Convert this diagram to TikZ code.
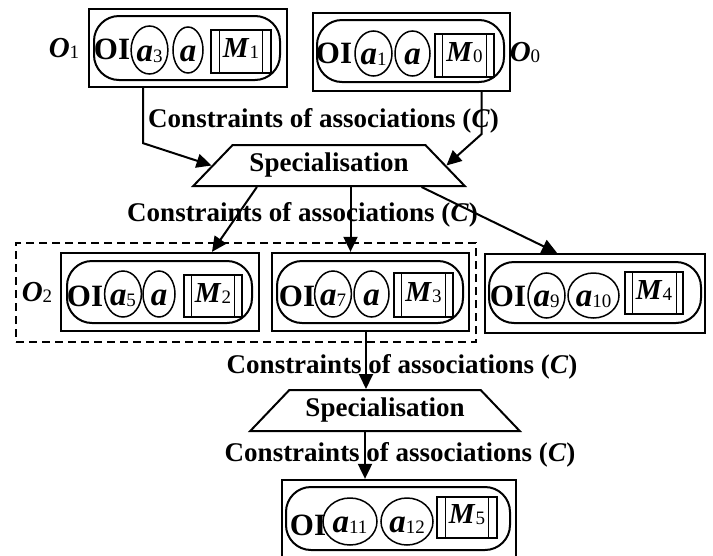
\documentclass[tikz,border=0pt]{standalone}
\usepackage{fontspec}
\setmainfont{Liberation Serif}
\usetikzlibrary{positioning,shapes.geometric,arrows.meta,calc}

\newcommand{\vname}[2]{\textit{#1}\raisebox{-1pt}{\fontsize{19}{19}\selectfont\mdseries\upshape #2}}

\begin{document}
\begin{tikzpicture}[x=1pt,y=-1pt,
    objbox/.style={draw, line width=2.3pt, inner sep=0pt},
    inbox/.style={draw, line width=2pt, rounded corners=25pt, inner sep=0pt},
    attr/.style={draw, ellipse, line width=1.5pt, inner sep=0pt, text height=24pt, text depth=2pt,
        font=\fontsize{33}{33}\selectfont\bfseries},
    mbox/.style={draw, line width=2pt, inner sep=0pt},
    mline/.style={draw, line width=0.9pt, inner sep=0pt, text height=19pt, text depth=7pt,
        font=\fontsize{29}{29}\selectfont\bfseries},
    oitext/.style={font=\fontsize{31}{31}\selectfont\bfseries, inner sep=0pt},
    olabel/.style={font=\fontsize{29}{29}\selectfont\bfseries, inner sep=0pt},
    ctext/.style={font=\fontsize{27}{27}\selectfont\bfseries, inner sep=0pt},
    spec/.style={draw, trapezium, trapezium stretches=true, trapezium angle=37, line width=2pt,
        inner sep=0pt, minimum height=41pt, font=\fontsize{27}{27}\selectfont\bfseries},
    arr/.style={line width=2pt, -{Triangle[length=15pt,width=14pt]}}]

    \useasboundingbox (0,0) rectangle (713,555);
    \clip (0,0) rectangle (713,555);

    % O1 object
    \node[objbox, minimum width=198pt, minimum height=78pt] (o1) at (188,48) {};
    \node[inbox, minimum width=186pt, minimum height=64pt] (o1in) at (187,48) {};
    \node[oitext] (o1oi) at (112,49.5) {OI};
    \node[attr, minimum width=33pt, minimum height=48pt] (o1a3) at (149.5,50) {\vname{a}{3}};
    \node[attr, minimum width=30pt, minimum height=46pt] (o1a) at (188,50) {\textit{a}};
    \node[mbox, minimum width=60pt, minimum height=43pt] (o1m) at (241,51.5) {};
    \node[mline, minimum width=43pt, minimum height=43pt] (o1mi) at (241,51.5) {\vname{M}{1}};
    \node[olabel] (o1lab) at (64,48) {\vname{O}{1}};

    % O0 object
    \node[objbox, minimum width=197pt, minimum height=78pt] (o0) at (411.5,52) {};
    \node[inbox, minimum width=187pt, minimum height=62pt] (o0in) at (410.5,51) {};
    \node[oitext] (o0oi) at (334,53) {OI};
    \node[attr, minimum width=37pt, minimum height=45pt] (o0a1) at (373.5,53.5) {\vname{a}{1}};
    \node[attr, minimum width=35pt, minimum height=45pt] (o0a) at (412.5,53.5) {\textit{a}};
    \node[mbox, minimum width=59pt, minimum height=43pt] (o0m) at (464.5,55.5) {};
    \node[mline, minimum width=44pt, minimum height=43pt] (o0mi) at (464.5,55.5) {\vname{M}{0}};
    \node[olabel] (o0lab) at (525,52) {\vname{O}{0}};

    % first specialisation
    \node[ctext] (c1) at (323.5,121) {Constraints of associations (\textit{C})};
    \node[spec, minimum width=272pt] (spec1) at (329,165.5) {Specialisation};
    \node[ctext] (c2) at (302.5,214.5) {Constraints of associations (\textit{C})};

    % O2 group
    \node[draw, dashed, dash pattern=on 8pt off 5pt, line width=1.5pt, inner sep=0pt,
        minimum width=460pt, minimum height=99pt] (grp) at (246,292.5) {};
    \node[olabel] (o2lab) at (37,292) {\vname{O}{2}};

    % O2 object
    \node[objbox, minimum width=198pt, minimum height=78pt] (o2) at (160,292) {};
    \node[inbox, minimum width=185pt, minimum height=62pt] (o2in) at (159.5,292) {};
    \node[oitext] (o2oi) at (85,296) {OI};
    \node[attr, minimum width=36pt, minimum height=46pt] (o2a5) at (123,294) {\vname{a}{5}};
    \node[attr, minimum width=32pt, minimum height=46pt] (o2a) at (159,294) {\textit{a}};
    \node[mbox, minimum width=58pt, minimum height=42pt] (o2m) at (213,296) {};
    \node[mline, minimum width=43pt, minimum height=42pt] (o2mi) at (213,296) {\vname{M}{2}};

    % O3 object
    \node[objbox, minimum width=197pt, minimum height=78pt] (o3) at (370.5,292) {};
    \node[inbox, minimum width=186pt, minimum height=62pt] (o3in) at (370,292) {};
    \node[oitext] (o3oi) at (297,296) {OI};
    \node[attr, minimum width=36pt, minimum height=46pt] (o3a7) at (333,294) {\vname{a}{7}};
    \node[attr, minimum width=35pt, minimum height=46pt] (o3a) at (371.5,294) {\textit{a}};
    \node[mbox, minimum width=59pt, minimum height=44pt] (o3m) at (423.5,295) {};
    \node[mline, minimum width=44pt, minimum height=44pt] (o3mi) at (423.5,295) {\vname{M}{3}};

    % O4 object
    \node[objbox, minimum width=220pt, minimum height=79pt] (o4) at (595,293.5) {};
    \node[inbox, minimum width=212pt, minimum height=61pt] (o4in) at (595,292.5) {};
    \node[oitext] (o4oi) at (508,296) {OI};
    \node[attr, minimum width=37pt, minimum height=45pt] (o4a9) at (546.5,295.5) {\vname{a}{9}};
    \node[attr, minimum width=51pt, minimum height=45pt] (o4a10) at (593.5,295.5) {\vname{a}{10}};
    \node[mbox, minimum width=58pt, minimum height=42pt] (o4m) at (654,293) {};
    \node[mline, minimum width=44pt, minimum height=42pt] (o4mi) at (654,293) {\vname{M}{4}};

    % second specialisation
    \node[ctext] (c3) at (402,366.5) {Constraints of associations (\textit{C})};
    \node[spec, minimum width=270pt] (spec2) at (385,410.5) {Specialisation};
    \node[ctext] (c4) at (400,454.5) {Constraints of associations (\textit{C})};

    % O5 object
    \node[objbox, minimum width=234pt, minimum height=100pt] (o5) at (399,530) {};
    \node[inbox, minimum width=224pt, minimum height=63pt] (o5in) at (398,518.5) {};
    \node[oitext] (o5oi) at (308,525) {OI};
    \node[attr, minimum width=54pt, minimum height=47pt] (o5a11) at (350,521.5) {\vname{a}{11}};
    \node[attr, minimum width=52pt, minimum height=47pt] (o5a12) at (407,521.5) {\vname{a}{12}};
    \node[mbox, minimum width=60pt, minimum height=41pt] (o5m) at (467,517.5) {};
    \node[mline, minimum width=43pt, minimum height=41pt] (o5mi) at (467,517.5) {\vname{M}{5}};

    % Connectors
    \draw[arr] ([xshift=-45pt]o1.south) -- ++(0,55) -- (spec1.left side);
    \draw[arr] ([xshift=70pt]o0.south) -- ++(0,42) -- (spec1.right side);
    \draw[arr] ($(spec1.bottom left corner)!0.239!(spec1.bottom right corner)$) -- ([xshift=52pt]o2.north);
    \draw[arr] ([xshift=-20pt]o3.north |- spec1.south) -- ([xshift=-20pt]o3.north);
    \draw[arr] ($(spec1.bottom left corner)!0.835!(spec1.bottom right corner)$) -- ([xshift=-38pt]o4.north);
    \draw[arr] ([xshift=-4.5pt]o3.south) -- ([xshift=-4.5pt]o3.south |- spec2.north);
    \draw[arr] ([xshift=-34pt]o5.north |- spec2.south) -- ([xshift=-34pt]o5.north);
\end{tikzpicture}
\end{document}
